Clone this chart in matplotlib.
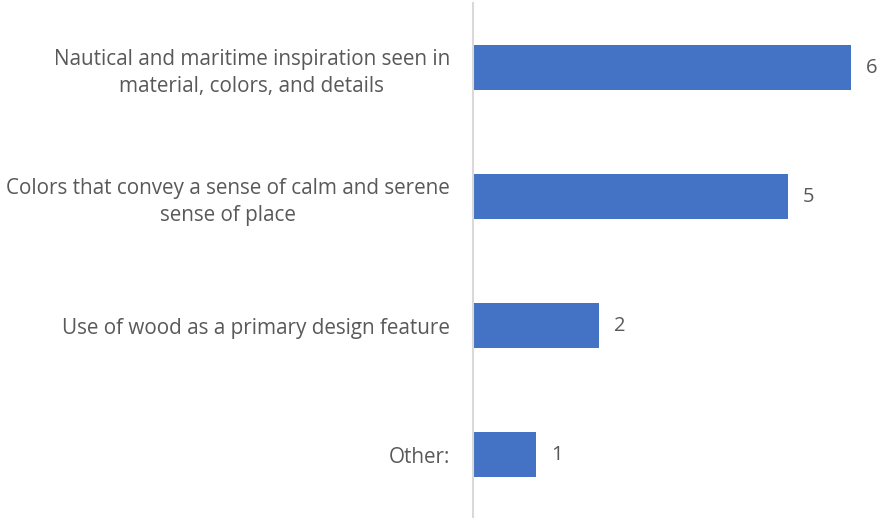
import matplotlib.pyplot as plt

categories = [
    "Nautical and maritime inspiration seen in\nmaterial, colors, and details",
    "Colors that convey a sense of calm and serene\nsense of place",
    "Use of wood as a primary design feature",
    "Other:",
]
counts = [6, 5, 2, 1]

bar_color = "#4472C4"
text_color = "#595959"

plt.rcParams['font.family'] = ['Open Sans', 'DejaVu Sans']

fig = plt.figure(figsize=(8.82, 5.18), dpi=100)
ax = fig.add_axes([473 / 882, 0, 1 - 473 / 882, 1 - 3 / 518])

pos = list(range(len(categories)))
ax.barh(pos, counts, height=0.35, color=bar_color)
ax.set_xlim(0, 409 / 63)
ax.set_ylim(3.49, -0.50)

for p, v in zip(pos, counts):
    ax.text(v + 0.24, p, str(v), va="center", ha="left", fontsize=14.5, color=text_color)

ax.set_yticks(pos)
ax.set_yticklabels(categories, fontsize=14.9, color=text_color, ha="center", linespacing=1.35)
ax.tick_params(axis="y", length=0, pad=0)
ax.set_xticks([])

for side in ["top", "right", "bottom"]:
    ax.spines[side].set_visible(False)
ax.spines["left"].set_color("#D9D9D9")
ax.spines["left"].set_linewidth(1.5)

# center-aligned labels need their anchor shifted left of the axis
fig.canvas.draw()
r = fig.canvas.get_renderer()
for lbl in ax.get_yticklabels():
    w = lbl.get_window_extent(renderer=r).width
    lbl.set_x(-(w / 2 + 23) / (409))

plt.savefig("out.png", dpi=100)
